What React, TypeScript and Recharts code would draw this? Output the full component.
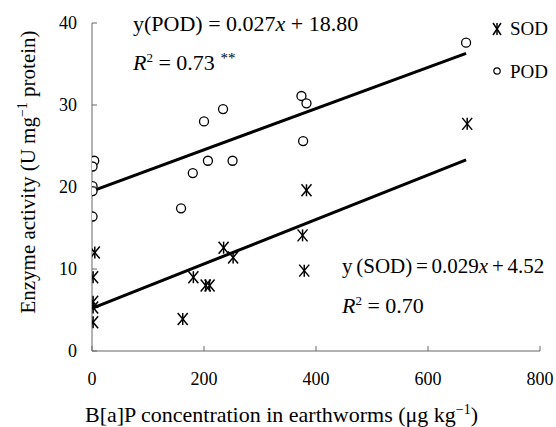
import { ScatterChart, Scatter, XAxis, YAxis, Label } from 'recharts';

const xTicks = [0, 200, 400, 600, 800];
const yTicks = [0, 10, 20, 30, 40];

// POD (open circles)
const podX = [4, 1, 1, 1, 1, 159, 180, 200, 207, 234, 251, 374, 383, 377, 668];
const podY = [23.2, 22.5, 20.1, 19.5, 16.4, 17.4, 21.7, 28.0, 23.2, 29.5, 23.2, 31.1, 30.2, 25.6, 37.6];

// SOD (asterisks)
const sodX = [5, 2, 2, 2, 2, 162, 181, 203, 210, 235, 252, 376, 379, 383, 670];
const sodY = [12.0, 9.0, 6.0, 5.3, 3.5, 3.9, 9.0, 8.0, 8.0, 12.6, 11.4, 14.1, 9.8, 19.6, 27.7];

// fitted trend lines, end points as drawn in the figure
const trendX = [0, 668];
const podTrendY = [19.5, 36.3];
const sodTrendY = [5.2, 23.3];

const FONT = '"Liberation Serif", "Times New Roman", serif';
const AXIS = '#666';

const podData = podX.map((x, i) => ({ x, y: podY[i] }));
const sodData = sodX.map((x, i) => ({ x, y: sodY[i] }));
const podLine = trendX.map((x, i) => ({ x, y: podTrendY[i] }));
const sodLine = trendX.map((x, i) => ({ x, y: sodTrendY[i] }));

function Circle({ cx, cy }: any) {
  return <circle cx={cx} cy={cy} r={4.5} fill="#fff" stroke="#000" strokeWidth={1.3} />;
}

function Star({ cx, cy }: any) {
  const w = 5;
  const h = 6;
  return (
    <g stroke="#000" strokeWidth={1.5}>
      <line x1={cx - w} y1={cy - h} x2={cx + w} y2={cy + h} />
      <line x1={cx - w} y1={cy + h} x2={cx + w} y2={cy - h} />
      <line x1={cx} y1={cy - h} x2={cx} y2={cy + h} />
    </g>
  );
}

const NoDot = () => <g />;

function XTick({ x, y, payload }: any) {
  return (
    <g>
      <line x1={x} x2={x} y1={y} y2={y - 5} stroke={AXIS} />
      <text x={x} y={y + 34} textAnchor="middle" fontFamily={FONT} fontSize={18} fill="#000">
        {payload.value}
      </text>
    </g>
  );
}

function YTick({ x, y, payload }: any) {
  return (
    <g>
      <line x1={x} x2={x + 5} y1={y} y2={y} stroke={AXIS} />
      <text x={x - 15} y={y} dy="0.35em" textAnchor="end" fontFamily={FONT} fontSize={18} fill="#000">
        {payload.value}
      </text>
    </g>
  );
}

function XLabel() {
  return (
    <text x={85} y={422} textAnchor="start" fontFamily={FONT} fontSize={22} fill="#000">
      B[a]P concentration in earthworms (μg kg
      <tspan dy={-8} fontSize={14}>−1</tspan>
      <tspan dy={8}>)</tspan>
    </text>
  );
}

function YLabel() {
  return (
    <text
      x={0}
      y={0}
      transform="translate(35,172) rotate(-90)"
      textAnchor="middle"
      fontFamily={FONT}
      fontSize={21}
      fill="#000"
    >
      Enzyme activity (U mg
      <tspan dy={-8} fontSize={14}>−1</tspan>
      <tspan dy={8}> protein)</tspan>
    </text>
  );
}

const txt: React.CSSProperties = {
  position: 'absolute',
  fontFamily: FONT,
  fontSize: 22,
  lineHeight: '22px',
  whiteSpace: 'nowrap',
  color: '#000',
};
const sup2: React.CSSProperties = { fontSize: 13, verticalAlign: 8, lineHeight: 0 };

export default function App() {
  return (
    <div style={{ position: 'absolute', left: 0, top: 0, width: 556, height: 427, background: '#fff' }}>
      <ScatterChart width={556} height={427} margin={{ top: 23, right: 16, bottom: 16, left: 32 }}>
        <XAxis
          type="number"
          dataKey="x"
          domain={[0, 800]}
          ticks={xTicks}
          tickSize={0}
          tickMargin={0}
          tickLine={false}
          tick={<XTick />}
          axisLine={{ stroke: AXIS }}
          height={60}
          allowDataOverflow
        >
          <Label content={<XLabel />} />
        </XAxis>
        <YAxis
          type="number"
          dataKey="y"
          domain={[0, 40]}
          ticks={yTicks}
          tickSize={0}
          tickMargin={0}
          tickLine={false}
          tick={<YTick />}
          axisLine={{ stroke: AXIS }}
          width={60}
          allowDataOverflow
        >
          <Label content={<YLabel />} />
        </YAxis>
        <Scatter data={podLine} line={{ stroke: '#000', strokeWidth: 3 }} shape={<NoDot />} isAnimationActive={false} />
        <Scatter data={sodLine} line={{ stroke: '#000', strokeWidth: 3 }} shape={<NoDot />} isAnimationActive={false} />
        <Scatter name="POD" data={podData} shape={<Circle />} isAnimationActive={false} />
        <Scatter name="SOD" data={sodData} shape={<Star />} isAnimationActive={false} />
      </ScatterChart>

      {/* legend */}
      <svg style={{ position: 'absolute', left: 488, top: 18 }} width={20} height={64}>
        <g stroke="#000" strokeWidth={1.5}>
          <line x1={5} y1={5} x2={13} y2={17} />
          <line x1={5} y1={17} x2={13} y2={5} />
          <line x1={9} y1={5} x2={9} y2={17} />
        </g>
        <circle cx={9} cy={53} r={3.2} fill="#fff" stroke="#000" strokeWidth={1.2} />
      </svg>
      <div style={{ ...txt, fontSize: 19, lineHeight: '19px', left: 510, top: 19 }}>SOD</div>
      <div style={{ ...txt, fontSize: 19, lineHeight: '19px', left: 510, top: 62 }}>POD</div>

      {/* equations */}
      <div style={{ ...txt, left: 133, top: 13 }}>
        y(POD) = 0.027<i>x</i> + 18.80
      </div>
      <div style={{ ...txt, left: 133, top: 52 }}>
        <i>R</i>
        <sup style={sup2}>2</sup> = 0.73 <sup style={{ ...sup2, fontSize: 15, verticalAlign: 7 }}>**</sup>
      </div>
      <div style={{ ...txt, fontSize: 21, wordSpacing: -1.5, left: 342, top: 255 }}>
        y (SOD) = 0.029<i>x</i> + 4.52
      </div>
      <div style={{ ...txt, left: 342, top: 295 }}>
        <i>R</i>
        <sup style={sup2}>2</sup> = 0.70
      </div>
    </div>
  );
}
